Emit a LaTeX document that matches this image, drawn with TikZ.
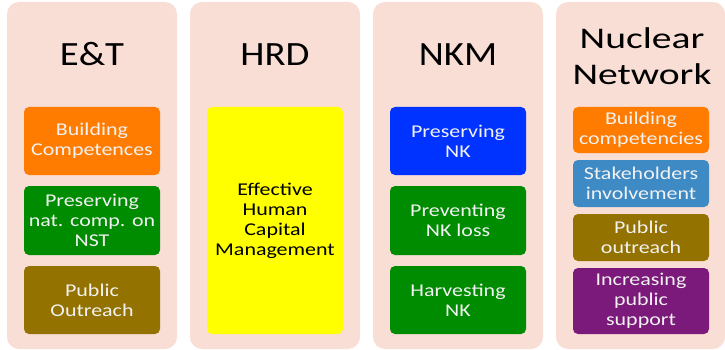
\documentclass[tikz,border=0pt]{standalone}
\usepackage{fontspec}
\setmainfont{Carlito}
\newfontfamily\titlefont[FakeStretch=1.14]{Carlito}
\newfontfamily\netfont[FakeStretch=1.32]{Carlito}
\newfontfamily\boxfont[FakeStretch=1.22]{Carlito}
\usetikzlibrary{positioning}
\definecolor{panelpink}{RGB}{249,222,214}
\definecolor{buildorange}{RGB}{255,124,0}
\definecolor{keepgreen}{RGB}{0,140,0}
\definecolor{outreacholive}{RGB}{147,114,0}
\definecolor{hrdyellow}{RGB}{255,255,0}
\definecolor{nkblue}{RGB}{0,51,255}
\definecolor{stakeblue}{RGB}{62,138,196}
\definecolor{supportpurple}{RGB}{123,26,122}
\definecolor{boxtext}{RGB}{242,242,242}

\begin{document}
\begin{tikzpicture}[x=1pt, y=-1pt,
  panel/.style={fill=panelpink, rounded corners=12pt},
  title/.style={anchor=base, font=\titlefont\fontsize{34}{36}\selectfont},
  item/.style={rounded corners=5pt, text=boxtext, align=center, inner sep=0pt,
    minimum width=136pt, font=\boxfont\fontsize{18}{20}\selectfont}]
\useasboundingbox (0,0) rectangle (725,350);

% Column panels
\fill[panel] (7,2) rectangle (177,349);
\fill[panel] (190,2) rectangle (360,349);
\fill[panel] (373,2) rectangle (543,349);
\fill[panel] (556,2) rectangle (725,349);

% Titles
\node[title] (et) at (92,66) {E\&T};
\node[title] (hrd) at (275,66) {HRD};
\node[title] (nkm) at (458,66) {NKM};
\node[font=\netfont\fontsize{30}{36}\selectfont, align=center] (net) at (642,56) {Nuclear\\Network};

% E&T boxes
\node[item, fill=buildorange, minimum height=68pt] (etbuild) at (92,141) {Building\\Competences};
\node[item, fill=keepgreen, minimum height=69pt] (etkeep) at (92,220.5) {Preserving\\nat. comp. on\\NST};
\node[item, fill=outreacholive, minimum height=68pt] (etpublic) at (92,300) {Public\\Outreach};

% HRD box
\node[item, fill=hrdyellow, text=black, minimum height=227pt] (hrdcap) at (275,220.5) {Effective\\Human\\Capital\\Management};

% NKM boxes
\node[item, fill=nkblue, minimum height=68pt] (nkkeep) at (458,141) {Preserving\\NK};
\node[item, fill=keepgreen, minimum height=69pt] (nkloss) at (458,220.5) {Preventing\\NK loss};
\node[item, fill=keepgreen, minimum height=68pt] (nkharvest) at (458,300) {Harvesting\\NK};

% Nuclear Network boxes
\node[item, fill=buildorange, minimum height=46pt] (netbuild) at (641,130) {Building\\competencies};
\node[item, fill=stakeblue, minimum height=47pt] (netstake) at (641,183.5) {Stakeholders\\involvement};
\node[item, fill=outreacholive, minimum height=47pt] (netpublic) at (641,237.5) {Public\\outreach};
\node[item, fill=supportpurple, minimum height=66pt] (netsupport) at (641,301) {Increasing\\public\\support};
\end{tikzpicture}
\end{document}
